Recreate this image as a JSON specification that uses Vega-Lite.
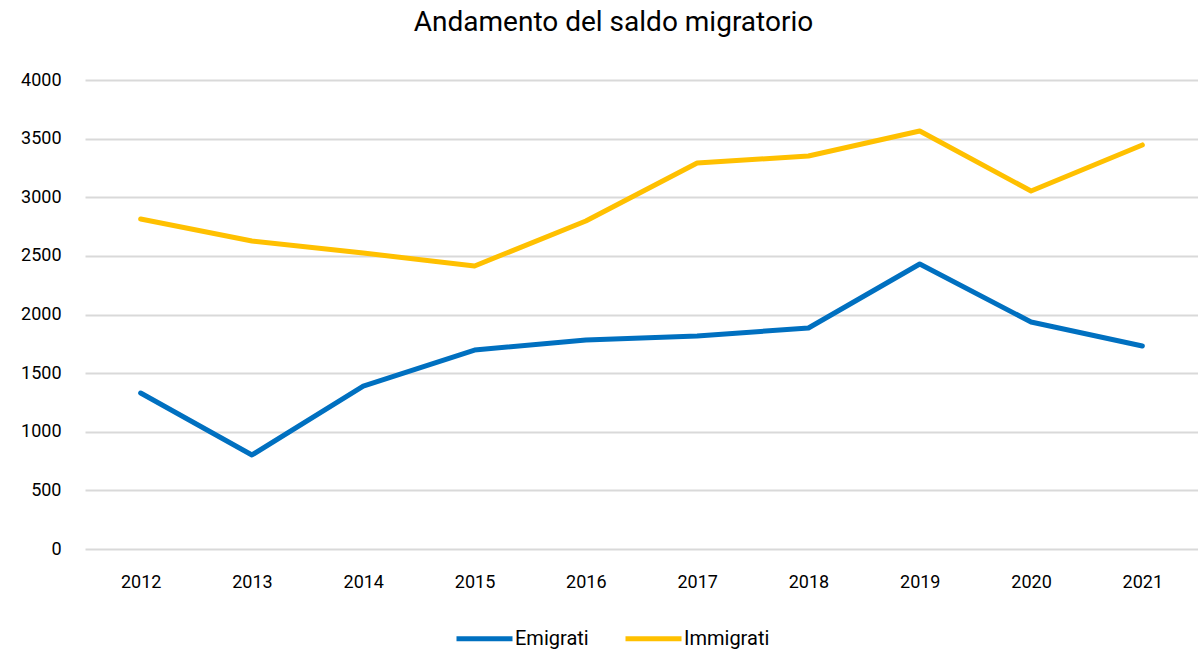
{
  "$schema": "https://vega.github.io/schema/vega-lite/v6.json",
  "autosize": {"type": "none"},
  "width": 1113,
  "height": 469,
  "padding": {"left": 85, "top": 80, "right": 0, "bottom": 109},
  "background": "white",
  "config": {
    "font": "Roboto",
    "view": {"stroke": null}
  },
  "title": {
    "text": "Andamento del saldo migratorio",
    "fontSize": 28,
    "font": "Roboto",
    "fontWeight": "normal",
    "color": "#000000",
    "anchor": "middle",
    "dx": -28,
    "offset": 34
  },
  "data": {
    "values": [
      {"anno": "2012", "serie": "Emigrati", "valore": 1330},
      {"anno": "2013", "serie": "Emigrati", "valore": 802},
      {"anno": "2014", "serie": "Emigrati", "valore": 1390},
      {"anno": "2015", "serie": "Emigrati", "valore": 1697},
      {"anno": "2016", "serie": "Emigrati", "valore": 1783},
      {"anno": "2017", "serie": "Emigrati", "valore": 1817},
      {"anno": "2018", "serie": "Emigrati", "valore": 1885},
      {"anno": "2019", "serie": "Emigrati", "valore": 2431},
      {"anno": "2020", "serie": "Emigrati", "valore": 1936},
      {"anno": "2021", "serie": "Emigrati", "valore": 1731},
      {"anno": "2012", "serie": "Immigrati", "valore": 2814},
      {"anno": "2013", "serie": "Immigrati", "valore": 2627},
      {"anno": "2014", "serie": "Immigrati", "valore": 2524},
      {"anno": "2015", "serie": "Immigrati", "valore": 2414},
      {"anno": "2016", "serie": "Immigrati", "valore": 2797},
      {"anno": "2017", "serie": "Immigrati", "valore": 3292},
      {"anno": "2018", "serie": "Immigrati", "valore": 3352},
      {"anno": "2019", "serie": "Immigrati", "valore": 3565},
      {"anno": "2020", "serie": "Immigrati", "valore": 3053},
      {"anno": "2021", "serie": "Immigrati", "valore": 3446}
    ]
  },
  "mark": {"type": "line", "strokeWidth": 5, "strokeCap": "round", "strokeJoin": "round"},
  "encoding": {
    "x": {
      "field": "anno",
      "type": "ordinal",
      "scale": {"type": "point", "padding": 0.5},
      "axis": {
        "title": null,
        "labelAngle": 0,
        "labelFontSize": 18,
        "labelColor": "#000000",
        "labelPadding": 24,
        "domain": false,
        "ticks": false,
        "grid": false
      }
    },
    "y": {
      "field": "valore",
      "type": "quantitative",
      "scale": {"domain": [0, 4000], "nice": false},
      "axis": {
        "title": null,
        "format": "d",
        "values": [0, 500, 1000, 1500, 2000, 2500, 3000, 3500, 4000],
        "labelFontSize": 18,
        "labelColor": "#000000",
        "labelPadding": 24,
        "domain": false,
        "ticks": false,
        "grid": true,
        "gridColor": "#d9d9d9",
        "gridWidth": 2
      }
    },
    "color": {
      "field": "serie",
      "type": "nominal",
      "scale": {"domain": ["Emigrati", "Immigrati"], "range": ["#0070C0", "#FFC000"]},
      "legend": {
        "title": null,
        "orient": "none",
        "direction": "horizontal",
        "legendX": 369,
        "legendY": 528,
        "symbolType": "stroke",
        "symbolSize": 3136,
        "symbolStrokeWidth": 5,
        "labelFontSize": 20,
        "labelColor": "#000000",
        "labelOffset": 0,
        "columnPadding": 26
      }
    }
  }
}
